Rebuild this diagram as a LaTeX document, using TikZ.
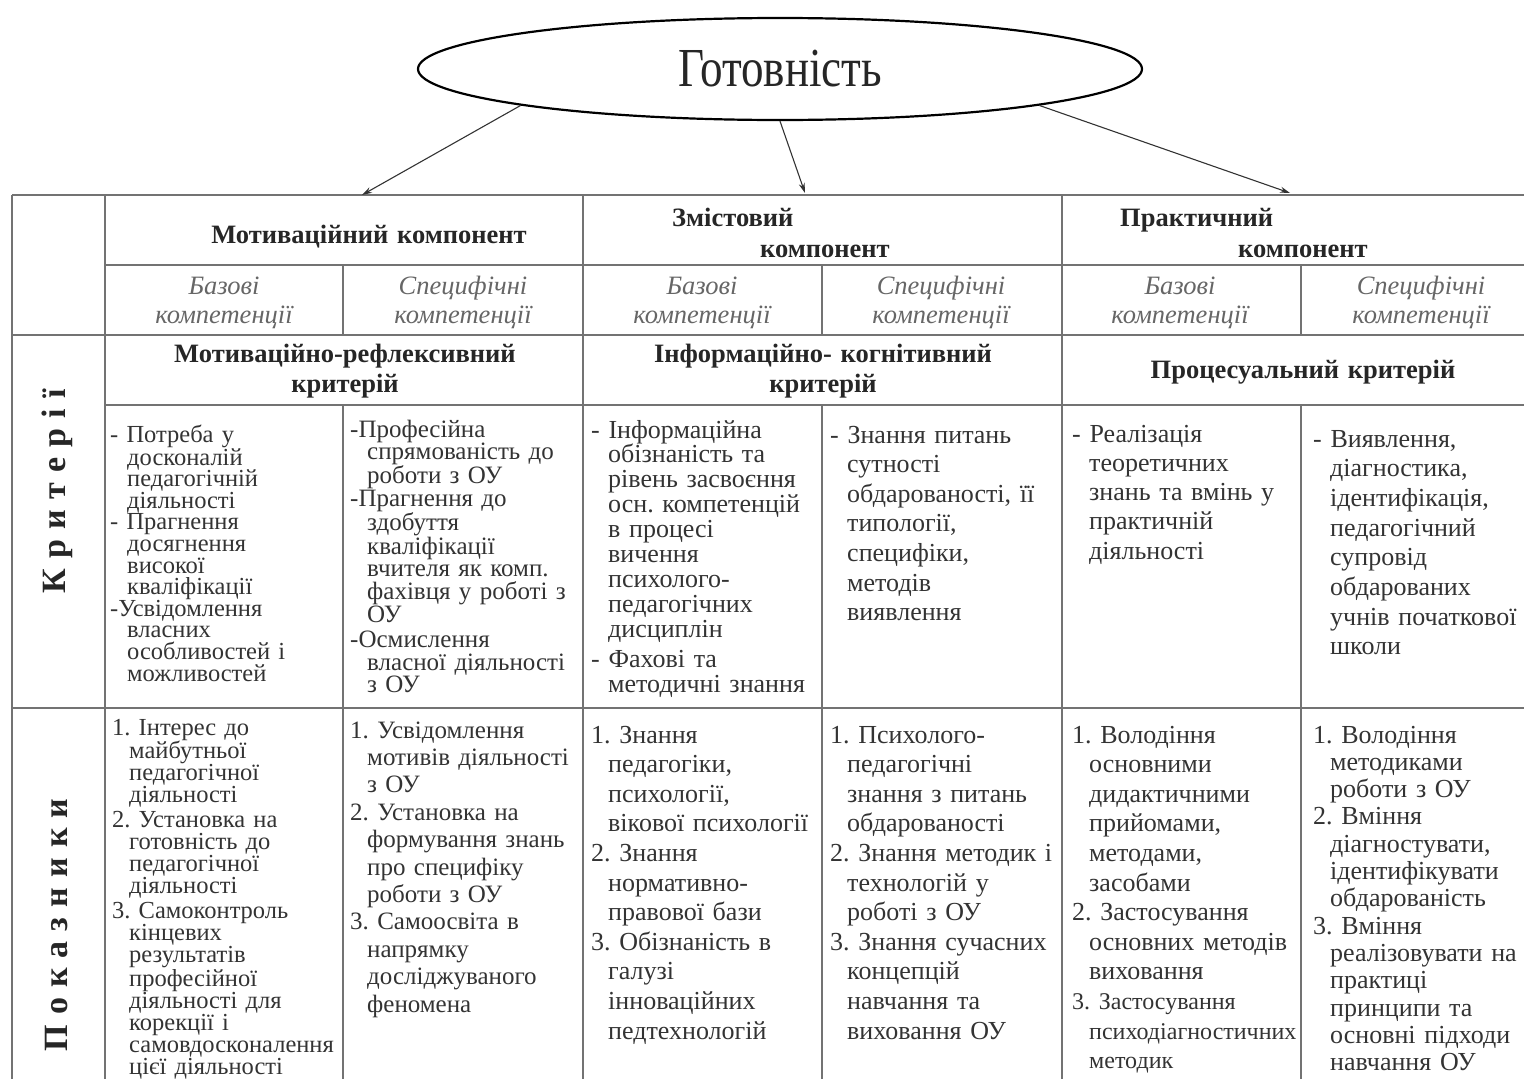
\documentclass[tikz,border=0pt]{standalone}
\usepackage{fontspec}
\setmainfont{Liberation Serif}
\newfontfamily\titlefont[FakeStretch=0.82]{Liberation Serif}
\newfontfamily\sidefont[LetterSpace=30]{Liberation Serif}
\usetikzlibrary{shapes.geometric,arrows.meta,positioning}
\frenchspacing

\newcommand\fs[2]{\fontsize{#1}{#2}\selectfont}
\newcommand\ind{\leavevmode\hspace*{17pt}}

\tikzset{
  grid line/.style={draw=black!55, line width=1.8pt},
  txt/.style={anchor=base west, inner sep=0pt, align=left, text width=300pt, text=black!80},
  hdr/.style={anchor=base, inner sep=0pt, align=center, text width=460pt, font=\bfseries\fs{26.5}{30}, text=black!85},
  comp/.style={anchor=base, inner sep=0pt, align=center, text width=230pt, font=\itshape\fs{26.5}{29}, text=black!60},
  side/.style={rotate=90, inner sep=0pt, font=\sidefont\bfseries\fs{34}{40}, text=black!85},
  link/.style={-{Stealth[length=10pt,width=6pt]}, line width=1.1pt, draw=black!80},
}

\begin{document}
\begin{tikzpicture}[x=1pt,y=-1pt]
\useasboundingbox (0,0) rectangle (1524,1079);

% top node
\node[draw, line width=2.2pt, ellipse, minimum width=724pt, minimum height=102pt, inner sep=0pt,
      font=\titlefont\fs{55}{60}, text=black!85] (gotov) at (780,69) {Готовність};

% table grid
\draw[grid line] (12,195) -- (1524,195);
\draw[grid line] (105,265) -- (1524,265);
\draw[grid line] (12,335) -- (1524,335);
\draw[grid line] (105,405) -- (1524,405);
\draw[grid line] (12,708) -- (1524,708);
\foreach \x in {12,105,583,1062}
  \draw[grid line] (\x,195) -- (\x,1079);
\foreach \x in {343,822,1301} {
  \draw[grid line] (\x,265) -- (\x,335);
  \draw[grid line] (\x,405) -- (\x,1079);
}

% arrows to the components
\coordinate (tM) at (362,195);
\coordinate (tZ) at (805,193);
\coordinate (tP) at (1290,193);
\draw[link] (gotov.188) -- (tM);
\draw[link] (gotov.south) -- (tZ);
\draw[link] (gotov.352) -- (tP);

% components
\node[hdr] (motK) at (369,243) {Мотиваційний компонент};
\node[txt, font=\bfseries\fs{26.5}{31}, text=black!85] (zmK) at (672,226) {Змістовий\\\hspace*{88pt}компонент};
\node[txt, font=\bfseries\fs{26.5}{31}, text=black!85] (prK) at (1120,226) {Практичний\\\hspace*{118pt}компонент};

\foreach \x/\nm in {224/mb,702/zb,1180/pb}
  \node[comp] (\nm) at (\x,294) {Базові\\компетенції};
\foreach \x/\nm in {463/ms,941/zs,1421/ps}
  \node[comp] (\nm) at (\x,294) {Специфічні\\компетенції};

% criteria
\node[hdr] (motKr) at (345,362) {Мотиваційно-рефлексивний\\критерій};
\node[hdr] (zmKr) at (823,362) {Інформаційно- когнітивний\\критерій};
\node[hdr] (prKr) at (1303,378) {Процесуальний критерій};

\node[side] (krit) at (57,491) {Критерії};
\node[side] (pokaz) at (57,925) {Показники};

\node[txt, font=\fs{24.5}{21.6}] (kr1) at (110,442) {- Потреба у\\\ind досконалій\\\ind педагогічній\\\ind діяльності\\
- Прагнення\\\ind досягнення\\\ind високої\\\ind кваліфікації\\
-Усвідомлення\\\ind власних\\\ind особливостей і\\\ind можливостей};
\node[txt, font=\fs{25}{22.6}] (kr2) at (350,437) {-Професійна\\\ind спрямованість до\\\ind роботи з ОУ\\
-Прагнення до\\\ind здобуття\\\ind кваліфікації\\\ind вчителя як комп.\\\ind фахівця у роботі з\\\ind ОУ\\[3pt]
-Осмислення\\\ind власної діяльності\\\ind з ОУ};
\node[txt, font=\fs{26}{24.9}] (kr3) at (591,438) {- Інформаційна\\\ind обізнаність та\\\ind рівень засвоєння\\\ind осн. компетенцій\\\ind в процесі\\\ind вичення\\\ind психолого-\\\ind педагогічних\\\ind дисциплін\\[5pt]
- Фахові та\\\ind методичні знання};
\node[txt, font=\fs{26}{29.6}] (kr4) at (830,443) {- Знання питань\\\ind сутності\\\ind обдарованості, її\\\ind типології,\\\ind специфіки,\\\ind методів\\\ind виявлення};
\node[txt, font=\fs{26}{29.3}] (kr5) at (1072,442) {- Реалізація\\\ind теоретичних\\\ind знань та вмінь у\\\ind практичній\\\ind діяльності};
\node[txt, font=\fs{26}{29.7}] (kr6) at (1313,447) {- Виявлення,\\\ind діагностика,\\\ind ідентифікація,\\\ind педагогічний\\\ind супровід\\\ind обдарованих\\\ind учнів початкової\\\ind школи};

% indicators
\node[txt, font=\fs{24.5}{22}] (pk1) at (112,735) {1. Інтерес до\\\ind майбутньої\\\ind педагогічної\\\ind діяльності\\[3pt]
2. Установка на\\\ind готовність до\\\ind педагогічної\\\ind діяльності\\[3pt]
3. Самоконтроль\\\ind кінцевих\\\ind результатів\\\ind професійної\\\ind діяльності для\\\ind корекції і\\\ind самовдосконалення\\\ind цієї діяльності};
\node[txt, font=\fs{25}{27.4}] (pk2) at (350,738) {1. Усвідомлення\\\ind мотивів діяльності\\\ind з ОУ\\
2. Установка на\\\ind формування знань\\\ind про специфіку\\\ind роботи з ОУ\\
3. Самоосвіта в\\\ind напрямку\\\ind досліджуваного\\\ind феномена};
\node[txt, font=\fs{26}{29.6}] (pk3) at (591,743) {1. Знання\\\ind педагогіки,\\\ind психології,\\\ind вікової психології\\
2. Знання\\\ind нормативно-\\\ind правової бази\\
3. Обізнаність в\\\ind галузі\\\ind інноваційних\\\ind педтехнологій};
\node[txt, font=\fs{26}{29.6}] (pk4) at (830,743) {1. Психолого-\\\ind педагогічні\\\ind знання з питань\\\ind обдарованості\\
2. Знання методик і\\\ind технологій у\\\ind роботі з ОУ\\
3. Знання сучасних\\\ind концепцій\\\ind навчання та\\\ind виховання ОУ};
\node[txt, font=\fs{26}{29.6}] (pk5) at (1072,743) {1. Володіння\\\ind основними\\\ind дидактичними\\\ind прийомами,\\\ind методами,\\\ind засобами\\
2. Застосування\\\ind основних методів\\\ind виховання\\
{\fs{24}{0}3. Застосування}\\\ind {\fs{24}{0}психодіагностичних}\\\ind {\fs{24}{0}методик}};
\node[txt, font=\fs{26}{27.3}] (pk6) at (1313,743) {1. Володіння\\\ind методиками\\\ind роботи з ОУ\\
2. Вміння\\\ind діагностувати,\\\ind ідентифікувати\\\ind обдарованість\\
3. Вміння\\\ind реалізовувати на\\\ind практиці\\\ind принципи та\\\ind основні підходи\\\ind навчання ОУ};
\end{tikzpicture}
\end{document}
